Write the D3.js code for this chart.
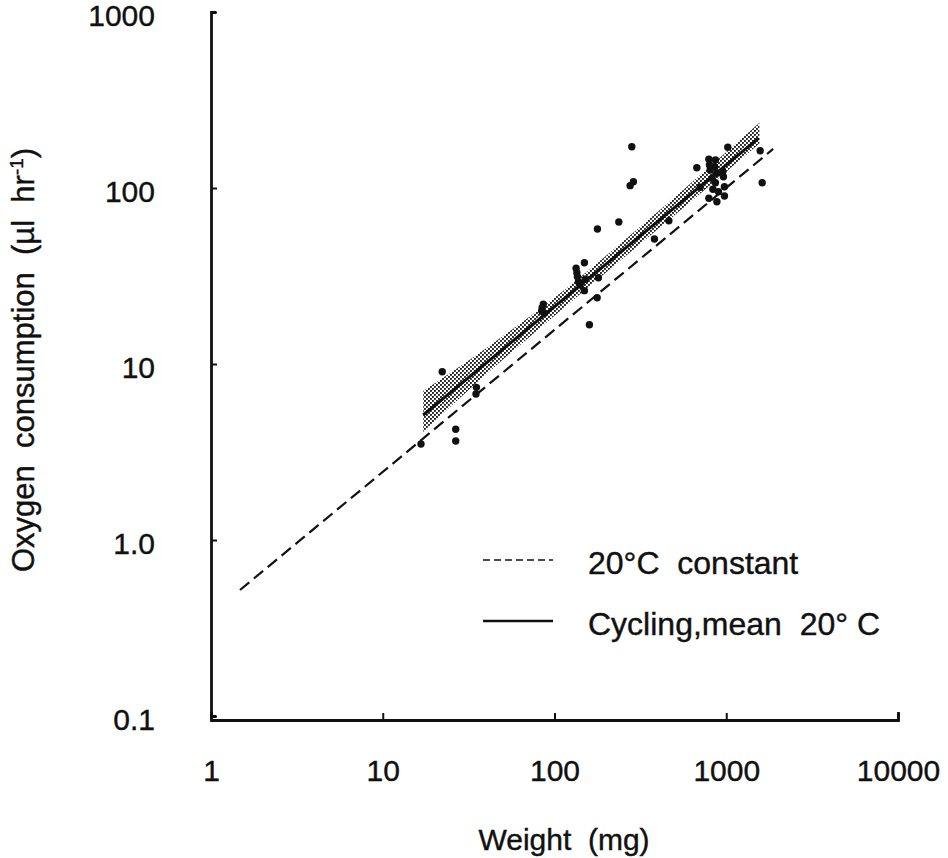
<!DOCTYPE html>
<html>
<head>
<meta charset="utf-8">
<script src="https://cdn.jsdelivr.net/npm/d3@7"></script>
<style>
    body { margin: 0; background: #fff; }
    svg { display: block; }
    text { font-family: "Liberation Sans", Arial, Helvetica, sans-serif; fill: #111; stroke: #111; stroke-width: 0.4px; }
</style>
</head>
<body>
<div id="chart"></div>
<script>
// ---- data ----
const xTicks = [1, 10, 100, 1000, 10000];
const xTickLabels = ["1", "10", "100", "1000", "10000"];
const yTicks = [0.1, 1, 10, 100, 1000];
const yTickLabels = ["0.1", "1.0", "10", "100", "1000"];

// measured animals: weight (mg) and oxygen consumption (ul/hr)
const pointWeights = [
    22.2, 35.1, 34.9, 26.6, 26.6, 16.7,
    86.1, 84.7, 84.3, 87.0,
    133.6, 134.9, 136.0, 137.8, 141.0, 149.3, 150.8, 149.3, 180.2, 177.1, 159.7,
    177.8, 236.8, 381.8, 463.2, 281.9, 288.0, 275.6,
    1021, 1576, 1619, 674, 792, 865, 798, 854, 806, 955, 882, 963, 828, 865,
    705, 836, 976, 901, 792, 882, 976
];
const pointValues = [
    9.04, 7.37, 6.75, 4.26, 3.65, 3.51,
    21.9, 20.9, 20.0, 19.4,
    35.0, 33.0, 31.3, 29.3, 28.1, 37.6, 30.3, 26.1, 30.9, 23.8, 16.7,
    58.5, 64.1, 51.3, 65.2, 171.7, 108.6, 103.1,
    170.3, 162.9, 107.2, 130.4, 145.6, 144.3, 135.1, 132.1, 126.6, 123.8, 121.2, 115.9, 113.5, 107.2,
    100.9, 98.3, 101.7, 95.3, 87.4, 83.6, 90.1
];

// regression lines (end points)
const constantWeights = [1.475, 1876];
const constantValues = [0.52, 166.7];
const cyclingWeights = [17.2, 1545];
const cyclingValues = [5.13, 192];

// confidence band around the cycling line
const bandWeights = [17.2, 40, 100, 300, 800, 1560];
const bandUpper = [7.03, 12.3, 23.8, 57.7, 132, 235];
const bandLower = [4.11, 8.75, 18.8, 46.2, 103, 179];

const legendLabels = ["20\u00B0C  constant", "Cycling,mean  20\u00B0 C"];
const xTitle = "Weight  (mg)";
const yTitle = "Oxygen  consumption  (\u00B5l  hr";

// ---- svg ----
const W = 948, H = 858;
const svg = d3.select("#chart").append("svg")
    .attr("width", W)
    .attr("height", H);

svg.append("rect").attr("width", W).attr("height", H).attr("fill", "#fff");

// stipple pattern for the band
const defs = svg.append("defs");
const pat = defs.append("pattern")
    .attr("id", "stipple")
    .attr("patternUnits", "userSpaceOnUse")
    .attr("width", 4)
    .attr("height", 4);
pat.append("rect").attr("x", 0).attr("y", 0).attr("width", 1.9).attr("height", 1.9).attr("fill", "#222");
pat.append("rect").attr("x", 2).attr("y", 2).attr("width", 1.9).attr("height", 1.9).attr("fill", "#222");

// scales
const x = d3.scaleLog().domain([1, 10000]).range([211, 898]);
const y = d3.scaleLog().domain([0.1, 1000]).range([716, 12]);

// axes
const xAxis = d3.axisBottom(x)
    .tickValues(xTicks)
    .tickFormat((d, i) => xTickLabels[i])
    .tickSizeInner(-7)
    .tickSizeOuter(-8)
    .tickPadding(40);

const yAxis = d3.axisLeft(y)
    .tickValues(yTicks)
    .tickFormat((d, i) => yTickLabels[i])
    .tickSizeInner(-6)
    .tickSizeOuter(-5)
    .tickPadding(56);

const gx = svg.append("g")
    .attr("transform", "translate(0,720)")
    .call(xAxis);

const gy = svg.append("g")
    .attr("transform", "translate(211,0)")
    .call(yAxis);

[gx, gy].forEach(g => {
    g.attr("font-family", null).attr("font-size", null);
    g.select(".domain").attr("stroke", "#111").attr("stroke-width", 2.8).attr("fill", "none");
    g.selectAll(".tick line").attr("stroke", "#111").attr("stroke-width", 2);
    g.selectAll(".tick text").style("font-size", "30px").attr("fill", "#111");
});
gy.selectAll(".tick text").attr("dy", "0.45em");

// band
const band = bandWeights.map((w, i) => ({ w: w, hi: bandUpper[i], lo: bandLower[i] }));
const area = d3.area()
    .x(d => x(d.w))
    .y0(d => y(d.lo))
    .y1(d => y(d.hi))
    .curve(d3.curveMonotoneX);

svg.append("path")
    .datum(band)
    .attr("d", area)
    .attr("fill", "url(#stipple)");

// lines
const line = d3.line().x(d => x(d[0])).y(d => y(d[1]));

svg.append("path")
    .datum(constantWeights.map((w, i) => [w, constantValues[i]]))
    .attr("d", line)
    .attr("fill", "none")
    .attr("stroke", "#111")
    .attr("stroke-width", 2.2)
    .attr("stroke-dasharray", "12,6");

svg.append("path")
    .datum(cyclingWeights.map((w, i) => [w, cyclingValues[i]]))
    .attr("d", line)
    .attr("fill", "none")
    .attr("stroke", "#111")
    .attr("stroke-width", 3);

// points
svg.append("g")
    .selectAll("circle")
    .data(pointWeights.map((w, i) => ({ w: w, v: pointValues[i] })))
    .join("circle")
    .attr("cx", d => x(d.w))
    .attr("cy", d => y(d.v))
    .attr("r", 3.7)
    .attr("fill", "#111");

// legend
const legend = svg.append("g").attr("transform", "translate(483,560)");
legendLabels.forEach((label, i) => {
    const row = legend.append("g").attr("transform", `translate(0,${i * 61})`);
    row.append("line")
        .attr("x1", 0).attr("x2", 70)
        .attr("y1", 0).attr("y2", 0)
        .attr("stroke", "#111")
        .attr("stroke-width", i === 0 ? 1.5 : 2.5)
        .attr("stroke-dasharray", i === 0 ? "7,4" : null);
    row.append("text")
        .attr("x", 105)
        .attr("y", 14)
        .style("font-size", "32px")
        .style("white-space", "pre")
        .text(label);
});

// axis titles
svg.append("text")
    .attr("x", 564)
    .attr("y", 850)
    .attr("text-anchor", "middle")
    .style("font-size", "30px")
    .style("white-space", "pre")
    .text(xTitle);

const yt = svg.append("text")
    .attr("transform", "translate(34,360) rotate(-90)")
    .attr("text-anchor", "middle")
    .style("font-size", "31px")
    .style("white-space", "pre");
yt.append("tspan").text(yTitle);
yt.append("tspan").attr("dy", -11).style("font-size", "19px").text("-1");
yt.append("tspan").attr("dy", 11).text(")");
</script>
</body>
</html>
